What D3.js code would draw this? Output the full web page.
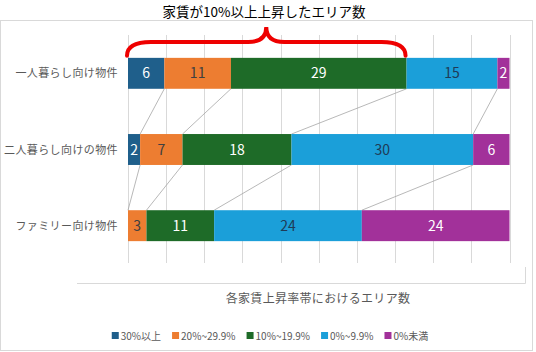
<!DOCTYPE html>
<html lang="ja">
    <head>
        <meta charset="utf-8">
        <title>家賃が10%以上上昇したエリア数</title>
        <script type="text/javascript" src="https://d3js.org/d3.v7.min.js"></script>
        <style type="text/css">
          body { margin: 0; background: #fff; }
          text { font-family: "Noto Sans CJK JP", "Noto Sans", sans-serif; }
          .grid { stroke: #d9d9d9; stroke-width: 1px; }
          .serline { stroke: #a6a6a6; stroke-width: .8px; fill: none; }
          .frame { stroke: #d9d9d9; fill: none; }
        </style>
    </head>
    <body>
        <svg width="536" height="352"></svg>
        <script type="text/javascript">

            const svg = d3.select("svg");

            // data
            const categories = ["一人暮らし向け物件", "二人暮らし向けの物件", "ファミリー向け物件"];
            const seriesNames = ["30%以上", "20%~29.9%", "10%~19.9%", "0%~9.9%", "0%未満"];
            const over30 = [6, 2, 0];
            const from20 = [11, 7, 3];
            const from10 = [29, 18, 11];
            const from0 = [15, 30, 24];
            const under0 = [2, 6, 24];
            const colors = ["#1f5f8b", "#ed7d31", "#1e6b28", "#1b9fd9", "#a2319a"];
            const labelColors = ["#ffffff", "#404040", "#ffffff", "#1f3b57", "#ffffff"];
            const xTicks = d3.range(0, 1.0001, 0.1);

            const rows = categories.map((c, i) => ({
                cat: c,
                "30%以上": over30[i],
                "20%~29.9%": from20[i],
                "10%~19.9%": from10[i],
                "0%~9.9%": from0[i],
                "0%未満": under0[i]
            }));

            const stacked = d3.stack()
                              .keys(seriesNames)
                              .offset(d3.stackOffsetExpand)(rows);

            const x = d3.scaleLinear().domain([0, 1]).range([128, 509.5]);
            const y = d3.scaleBand()
                        .domain(categories)
                        .range([35, 264])
                        .paddingInner(0.594)
                        .paddingOuter(0.3);

            // chart frame
            svg.append("rect").attr("class", "frame")
               .attr("x", 0.5).attr("y", 20.5).attr("width", 532).attr("height", 330);

            // title
            svg.append("text")
               .attr("x", 264).attr("y", 17)
               .attr("text-anchor", "middle")
               .attr("font-size", 13.5).attr("fill", "#000")
               .text("家賃が10%以上上昇したエリア数");

            // gridlines
            svg.selectAll(".grid")
               .data(xTicks)
               .enter()
               .append("line")
               .attr("class", "grid")
               .attr("x1", d => Math.round(x(d)) + 0.5)
               .attr("x2", d => Math.round(x(d)) + 0.5)
               .attr("y1", 35)
               .attr("y2", 263);

            // series lines between bars
            const serLines = [];
            for (let i = 0; i < categories.length - 1; i++) {
                for (let k = 0; k < seriesNames.length - 1; k++) {
                    serLines.push({
                        x1: x(stacked[k][i][1]),
                        y1: y(categories[i]) + y.bandwidth(),
                        x2: x(stacked[k][i + 1][1]),
                        y2: y(categories[i + 1])
                    });
                }
            }
            svg.selectAll(".serline")
               .data(serLines)
               .enter()
               .append("line")
               .attr("class", "serline")
               .attr("x1", d => d.x1).attr("y1", d => d.y1)
               .attr("x2", d => d.x2).attr("y2", d => d.y2);

            // bars
            const groups = svg.selectAll(".series")
                              .data(stacked)
                              .enter()
                              .append("g")
                              .attr("class", "series")
                              .attr("fill", (d, i) => colors[i]);

            groups.selectAll("rect")
                  .data(d => d)
                  .enter()
                  .append("rect")
                  .attr("x", d => x(d[0]))
                  .attr("y", d => y(d.data.cat))
                  .attr("width", d => x(d[1]) - x(d[0]))
                  .attr("height", y.bandwidth());

            // value labels
            groups.selectAll("text")
                  .data((d, i) => d.map(p => ({p: p, key: d.key, idx: i})))
                  .enter()
                  .filter(d => d.p.data[d.key] > 0)
                  .append("text")
                  .attr("x", d => (x(d.p[0]) + x(d.p[1])) / 2)
                  .attr("y", d => y(d.p.data.cat) + y.bandwidth() / 2 + 5)
                  .attr("text-anchor", "middle")
                  .attr("font-size", 14)
                  .attr("fill", d => labelColors[d.idx])
                  .text(d => d.p.data[d.key]);

            // category labels
            svg.selectAll(".cat")
               .data(categories)
               .enter()
               .append("text")
               .attr("class", "cat")
               .attr("x", 118)
               .attr("y", d => y(d) + y.bandwidth() / 2 + 4)
               .attr("text-anchor", "end")
               .attr("font-size", 11)
               .attr("letter-spacing", 0.4)
               .attr("fill", "#595959")
               .text(d => d);

            // red brace over the 10%+ segments of the first bar
            const bx0 = x(0) - 1;
            const bx1 = x(stacked[2][0][1]) - 1;
            const bxc = (bx0 + bx1) / 2;
            const yb = y(categories[0]) - 2, ym = 42, yt = 27;
            svg.append("path")
               .attr("d", `M${bx0},${yb} Q${bx0},${ym} ${bx0 + 24},${ym} L${bxc - 18},${ym} Q${bxc},${ym} ${bxc},${yt} Q${bxc},${ym} ${bxc + 18},${ym} L${bx1 - 24},${ym} Q${bx1},${ym} ${bx1},${yb}`)
               .attr("fill", "none")
               .attr("stroke", "#ee0000")
               .attr("stroke-width", 4)
               .attr("stroke-linecap", "round");

            // axis title area line
            svg.append("path").attr("class", "frame")
               .attr("d", "M77,283.5 L525.5,283.5 L525.5,267");

            svg.append("text")
               .attr("x", 318).attr("y", 303)
               .attr("text-anchor", "middle")
               .attr("font-size", 12)
               .attr("letter-spacing", 0.3)
               .attr("fill", "#595959")
               .text("各家賃上昇率帯におけるエリア数");

            // legend
            const legend = svg.append("g").attr("transform", "translate(0,336)");
            const items = legend.selectAll("g")
                                .data(seriesNames)
                                .enter()
                                .append("g");
            items.append("rect")
                 .attr("y", -4).attr("width", 7).attr("height", 7)
                 .attr("fill", (d, i) => colors[i]);
            items.append("text")
                 .attr("x", 9).attr("y", 3.5)
                 .attr("font-size", 10)
                 .attr("fill", "#595959")
                 .text(d => d);
            const gap = 11;
            const widths = [];
            items.each(function() { widths.push(this.getBBox().width); });
            const total = d3.sum(widths) + gap * (widths.length - 1);
            let lx = 270 - total / 2;
            items.attr("transform", (d, i) => {
                const t = `translate(${lx},0)`;
                lx += widths[i] + gap;
                return t;
            });

        </script>
    </body>
</html>
